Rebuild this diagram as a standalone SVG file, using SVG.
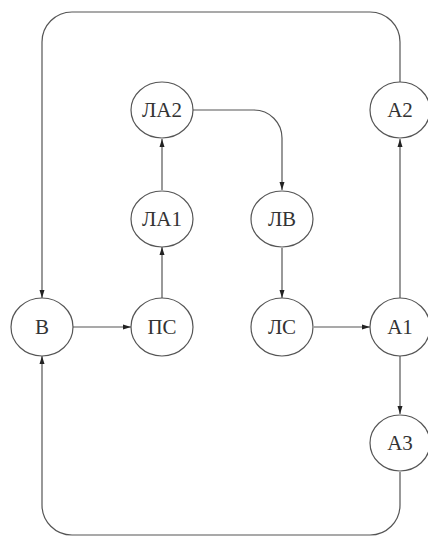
<svg xmlns="http://www.w3.org/2000/svg" width="428" height="537" viewBox="0 0 428 537">
<style>
.n ellipse{fill:#fff;stroke:#555;stroke-width:1.2}
.n text{font-family:"Liberation Serif","Times New Roman",serif;font-size:21px;fill:#333;text-anchor:middle}
.c path{fill:none;stroke:#555;stroke-width:1.2}
</style>
<defs>
<marker id="ah" markerWidth="8" markerHeight="6" refX="8" refY="3" orient="auto" markerUnits="userSpaceOnUse">
<path d="M0,0.5 L8,3 L0,5.5 Z" fill="#222"/>
</marker>
</defs>
<rect width="428" height="537" fill="#fff"/>
<g id="connectors" class="c">
<path d="M400,82 V42 A30,30 0 0 0 370,12 H72 A30,30 0 0 0 42,42 V298" marker-end="url(#ah)"/>
<path d="M400,472 V505 A30,30 0 0 1 370,535 H72 A30,30 0 0 1 42,505 V356" marker-end="url(#ah)"/>
<path d="M73,327 H131" marker-end="url(#ah)"/>
<path d="M162,298 V247" marker-end="url(#ah)"/>
<path d="M162,190 V139" marker-end="url(#ah)"/>
<path d="M193,110 H254 A28,28 0 0 1 282,138 V190" marker-end="url(#ah)"/>
<path d="M282,248 V298" marker-end="url(#ah)"/>
<path d="M314,327 H370" marker-end="url(#ah)"/>
<path d="M400,298 V139" marker-end="url(#ah)"/>
<path d="M400,356 V414" marker-end="url(#ah)"/>
</g>
<g id="B" class="n"><ellipse cx="42" cy="327" rx="31" ry="29"/><text x="42" y="334">В</text></g>
<g id="PS" class="n"><ellipse cx="162" cy="327" rx="31" ry="29"/><text x="162" y="334">ПС</text></g>
<g id="LA1" class="n"><ellipse cx="162" cy="219" rx="31" ry="28"/><text x="162" y="226">ЛА1</text></g>
<g id="LA2" class="n"><ellipse cx="162" cy="110" rx="31" ry="28"/><text x="162" y="117">ЛА2</text></g>
<g id="LV" class="n"><ellipse cx="282" cy="219" rx="31" ry="28"/><text x="282" y="226">ЛВ</text></g>
<g id="LS" class="n"><ellipse cx="282" cy="327" rx="31" ry="29"/><text x="282" y="334">ЛС</text></g>
<g id="A1" class="n"><ellipse cx="400" cy="327" rx="30" ry="29"/><text x="400" y="334">А1</text></g>
<g id="A2" class="n"><ellipse cx="400" cy="110" rx="30" ry="28"/><text x="400" y="117">А2</text></g>
<g id="A3" class="n"><ellipse cx="400" cy="443" rx="30" ry="28"/><text x="400" y="450">А3</text></g>
</svg>
